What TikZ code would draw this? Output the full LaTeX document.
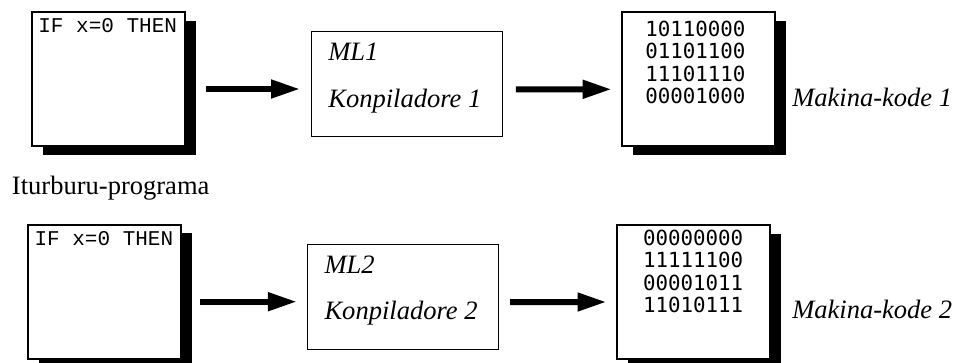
\documentclass[tikz,border=0pt]{standalone}
\usepackage{fontspec}
\setmainfont{Liberation Serif}
\newfontfamily\codefont{Liberation Mono}
\newfontfamily\binfont{DejaVu Sans Mono}
\usetikzlibrary{arrows.meta,shadows,calc}
\newcommand\pxu{0.75pt}
\tikzset{
  srcbox/.style={draw, line width=1.5pt, fill=white, inner sep=0pt,
    minimum width=153*\pxu, minimum height=134*\pxu,
    drop shadow={shadow xshift=11*\pxu, shadow yshift=-8.3*\pxu, fill=black, opacity=1}},
  compbox/.style={draw, line width=1.1pt, fill=white, inner sep=0pt,
    minimum width=191*\pxu, minimum height=105*\pxu},
  codetext/.style={anchor=base west, inner sep=0pt, font=\codefont\fontsize{15.75}{18}\selectfont},
  bintext/.style={anchor=base west, inner sep=0pt, align=left,
    font=\binfont\fontsize{15.6}{16.9}\selectfont},
  label/.style={anchor=base west, inner sep=0pt, font=\fontsize{19.9}{24}\selectfont},
  itlabel/.style={label, font=\fontsize{19.9}{24}\selectfont\itshape},
  flow/.style={line width=4.5pt, -{Triangle[length=29*\pxu, width=17.5*\pxu]}}
}
\begin{document}
\begin{tikzpicture}[x=0.75pt, y=-0.75pt]
  \useasboundingbox (0,0) rectangle (959,362);

  % first compiler row
  \node[srcbox]  (src1) at (108,79.2) {};
  \node[compbox] (ml1)  at (407,83.9) {};
  \node[srcbox]  (mk1)  at (698.2,79.2) {};

  % second compiler row
  \node[srcbox]  (src2) at (104.2,291.7) {};
  \node[compbox] (ml2)  at (402.9,297) {};
  \node[srcbox]  (mk2)  at (693.7,292.2) {};

  % contents of the boxes
  \node[codetext] (code1) at ([shift={(7.6,21)}]src1.north west) {IF x=0 THEN};
  \node[codetext] (code2) at ([shift={(7.6,21.5)}]src2.north west) {IF x=0 THEN};

  \node[itlabel] (ml1a) at ([shift={(17.3,29.7)}]ml1.north west) {ML1};
  \node[itlabel] (ml1b) at ([shift={(17.3,77.3)}]ml1.north west) {Konpiladore 1};
  \node[itlabel] (ml2a) at ([shift={(17.6,29.3)}]ml2.north west) {ML2};
  \node[itlabel] (ml2b) at ([shift={(17.6,76)}]ml2.north west) {Konpiladore 2};

  % the base anchor of a multi-line node sits on its last line
  \node[bintext] (bin1) at ([shift={(24.3,92.5)}]mk1.north west)
    {10110000\\01101100\\11101110\\00001000};
  \node[bintext] (bin2) at ([shift={(26.6,88.5)}]mk2.north west)
    {00000000\\11111100\\00001011\\11010111};

  % labels outside the boxes
  \node[itlabel] (out1) at (792,106.7) {Makina-kode 1};
  \node[itlabel] (out2) at (792,318.3) {Makina-kode 2};
  \node[label]   (iturb) at (11.7,194) {Iturburu-programa};

  % connectors
  \draw[flow] ([shift={(20,9.8)}]src1.east) -- ([shift={(-10.7,5.1)}]ml1.west);
  \draw[flow] ([shift={(12.7,5.4)}]ml1.east) -- ([shift={(-9,10.1)}]mk1.west);
  \draw[flow] ([shift={(18.3,10)}]src2.east) -- ([shift={(-9.7,4.7)}]ml2.west);
  \draw[flow] ([shift={(11,5)}]ml2.east) -- ([shift={(-9.7,9.8)}]mk2.west);
\end{tikzpicture}
\end{document}
